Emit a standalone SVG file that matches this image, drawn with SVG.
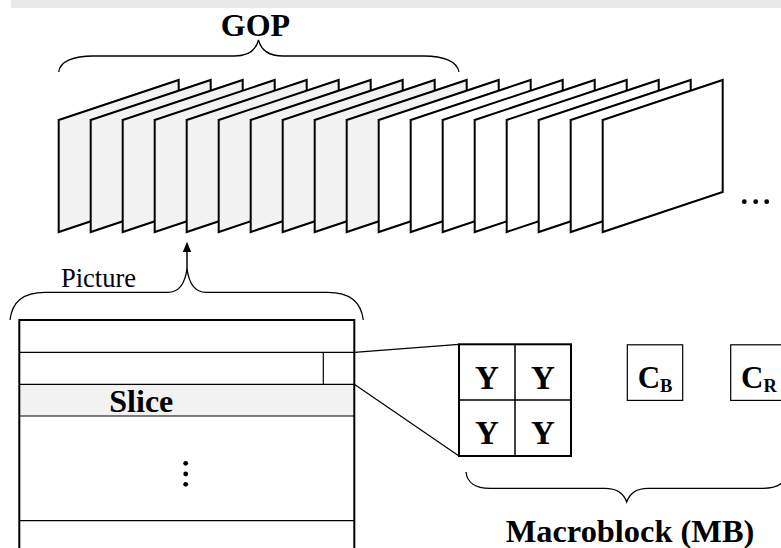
<svg xmlns="http://www.w3.org/2000/svg" width="781" height="548" viewBox="0 0 781 548">
<style>
.frame{stroke:#000;stroke-width:2;stroke-linejoin:miter}
.g{fill:#f2f2f2}
.w{fill:#fff}
.brace{fill:none;stroke:#000;stroke-width:1.3}
.thin{fill:none;stroke:#000;stroke-width:1.2}
.bt{font-family:"Liberation Serif","Times New Roman",serif;font-weight:bold;fill:#000}
.rt{font-family:"Liberation Serif","Times New Roman",serif;fill:#000}
</style>
<rect x="11" y="0" width="770" height="8" fill="#e9e9e9"/>
<g id="gop">
<text class="bt" x="255.5" y="36" font-size="32" text-anchor="middle">GOP</text>
<path class="brace" d="M58.7,72 C60,61 74,56 93,56 L234,56 C248,56 256,50 258.5,40 C261,50 269,56 283,56 L424,56 C443,56 457,61 459,72"/>
</g>
<g id="frames">
<polygon class="frame g" points="58.7,120 178.7,80 178.7,192 58.7,232"/>
<polygon class="frame g" points="90.7,120 210.7,80 210.7,192 90.7,232"/>
<polygon class="frame g" points="122.7,120 242.7,80 242.7,192 122.7,232"/>
<polygon class="frame g" points="154.7,120 274.7,80 274.7,192 154.7,232"/>
<polygon class="frame g" points="186.7,120 306.7,80 306.7,192 186.7,232"/>
<polygon class="frame g" points="218.7,120 338.7,80 338.7,192 218.7,232"/>
<polygon class="frame g" points="250.7,120 370.7,80 370.7,192 250.7,232"/>
<polygon class="frame g" points="282.7,120 402.7,80 402.7,192 282.7,232"/>
<polygon class="frame g" points="314.7,120 434.7,80 434.7,192 314.7,232"/>
<polygon class="frame g" points="346.7,120 466.7,80 466.7,192 346.7,232"/>
<polygon class="frame w" points="378.7,120 498.7,80 498.7,192 378.7,232"/>
<polygon class="frame w" points="410.7,120 530.7,80 530.7,192 410.7,232"/>
<polygon class="frame w" points="442.7,120 562.7,80 562.7,192 442.7,232"/>
<polygon class="frame w" points="474.7,120 594.7,80 594.7,192 474.7,232"/>
<polygon class="frame w" points="506.7,120 626.7,80 626.7,192 506.7,232"/>
<polygon class="frame w" points="538.7,120 658.7,80 658.7,192 538.7,232"/>
<polygon class="frame w" points="570.7,120 690.7,80 690.7,192 570.7,232"/>
<polygon class="frame w" points="602.7,120 722.7,80 722.7,192 602.7,232"/>
<circle cx="744.3" cy="201.7" r="2.4"/>
<circle cx="755.7" cy="201.7" r="2.4"/>
<circle cx="766.7" cy="201.7" r="2.4"/>
</g>
<g id="picture">
<text class="rt" x="61" y="286.7" font-size="26.5">Picture</text>
<path class="brace" d="M10,320 C12,301 25,292.3 45,292.3 L168,292.3 C180,292.3 185,283 187,269 C189,283 194,292.3 206,292.3 L328,292.3 C348,292.3 361,301 363.3,320"/>
<rect x="19.3" y="384.3" width="335" height="31.7" fill="#f2f2f2"/>
<line class="thin" x1="19.3" y1="352.3" x2="354.3" y2="352.3"/>
<line class="thin" x1="19.3" y1="384.3" x2="354.3" y2="384.3"/>
<line class="thin" x1="19.3" y1="416" x2="354.3" y2="416"/>
<line class="thin" x1="19.3" y1="520.7" x2="354.3" y2="520.7"/>
<line class="thin" x1="323.3" y1="352.3" x2="323.3" y2="384.3"/>
<path d="M19.3,560 L19.3,320 L354.3,320 L354.3,560" fill="none" stroke="#000" stroke-width="2"/>
<text class="bt" x="109.3" y="411.7" font-size="32">Slice</text>
<circle cx="185.7" cy="463.3" r="2.4"/>
<circle cx="185.7" cy="474" r="2.4"/>
<circle cx="185.7" cy="484.3" r="2.4"/>
</g>
<g id="connectors">
<line x1="187" y1="270" x2="187" y2="250" stroke="#000" stroke-width="1.5"/>
<polygon points="187,241.7 182.8,252 191.2,252" fill="#000"/>
<line class="thin" x1="354.3" y1="352.3" x2="459" y2="344.3"/>
<line class="thin" x1="354.3" y1="384.3" x2="459" y2="456"/>
</g>
<g id="macroblock">
<rect x="459" y="344.3" width="112" height="111.7" fill="#fff" stroke="#000" stroke-width="2"/>
<line x1="515" y1="344.3" x2="515" y2="456" stroke="#000" stroke-width="1.5"/>
<line x1="459" y1="400" x2="571" y2="400" stroke="#000" stroke-width="1.5"/>
<text class="bt" x="487" y="388.5" font-size="33" text-anchor="middle">Y</text>
<text class="bt" x="543" y="388.5" font-size="33" text-anchor="middle">Y</text>
<text class="bt" x="487" y="443.5" font-size="33" text-anchor="middle">Y</text>
<text class="bt" x="543" y="443.5" font-size="33" text-anchor="middle">Y</text>
</g>
<g id="cb">
<rect class="thin" x="627.3" y="344.8" width="55.4" height="55.6"/>
<text class="bt" x="637.7" y="387.5" font-size="31">C<tspan font-size="18.5" dy="4.3">B</tspan></text>
</g>
<g id="cr">
<rect class="thin" x="730.7" y="344.8" width="55.4" height="55.6"/>
<text class="bt" x="741" y="387.5" font-size="31">C<tspan font-size="18.5" dy="4.3">R</tspan></text>
</g>
<g id="mb-label">
<path class="brace" d="M466,472 C467,482 475,488.3 490,488.3 L605,488.3 C617,488.3 624,494 626.7,502 C629.4,494 636,488.3 648,488.3 L763,488.3 C778,488.3 786,482 787.4,472"/>
<text class="bt" x="630" y="541.7" font-size="32.4" text-anchor="middle">Macroblock (MB)</text>
</g>
</svg>
